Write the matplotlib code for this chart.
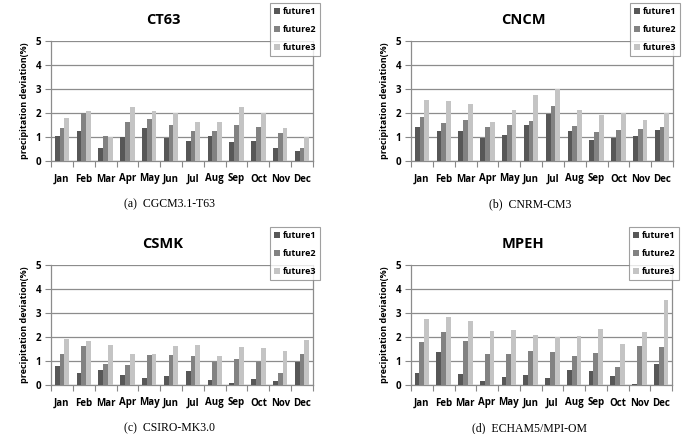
import matplotlib
matplotlib.use("Agg")
import matplotlib.pyplot as plt
import numpy as np
from matplotlib.patches import Patch

months = ["Jan", "Feb", "Mar", "Apr", "May", "Jun", "Jul", "Aug", "Sep", "Oct", "Nov", "Dec"]
series_names = ["future1", "future2", "future3"]

ct63_f1 = [1.06, 1.25, 0.53, 1.02, 1.39, 0.96, 0.82, 1.06, 0.79, 0.84, 0.54, 0.43]
ct63_f2 = [1.36, 2.02, 1.06, 1.63, 1.74, 1.52, 1.27, 1.24, 1.49, 1.43, 1.16, 0.54]
ct63_f3 = [1.78, 2.09, 1.01, 2.26, 2.09, 1.99, 1.63, 1.63, 2.24, 2.02, 1.38, 0.99]

cncm_f1 = [1.43, 1.27, 1.23, 0.96, 1.10, 1.50, 1.95, 1.24, 0.86, 0.96, 1.03, 1.30]
cncm_f2 = [1.82, 1.57, 1.71, 1.41, 1.49, 1.67, 2.28, 1.46, 1.20, 1.31, 1.34, 1.42]
cncm_f3 = [2.55, 2.48, 2.37, 1.64, 2.13, 2.73, 3.00, 2.12, 1.92, 1.99, 1.70, 2.02]

csmk_f1 = [0.78, 0.50, 0.61, 0.42, 0.28, 0.36, 0.58, 0.19, 0.08, 0.25, 0.17, 0.94]
csmk_f2 = [1.31, 1.61, 0.86, 0.83, 1.25, 1.25, 1.22, 0.94, 1.08, 0.96, 0.50, 1.31]
csmk_f3 = [1.92, 1.83, 1.67, 1.29, 1.28, 1.61, 1.67, 1.22, 1.58, 1.53, 1.43, 1.86]

mpeh_f1 = [0.51, 1.39, 0.46, 0.18, 0.33, 0.42, 0.29, 0.64, 0.58, 0.39, 0.06, 0.86]
mpeh_f2 = [1.81, 2.22, 1.83, 1.29, 1.29, 1.43, 1.39, 1.19, 1.33, 0.75, 1.61, 1.58]
mpeh_f3 = [2.74, 2.83, 2.67, 2.25, 2.28, 2.08, 1.99, 2.06, 2.33, 1.69, 2.22, 3.54]

titles = ["CT63", "CNCM", "CSMK", "MPEH"]
captions = ["(a)  CGCM3.1-T63", "(b)  CNRM-CM3", "(c)  CSIRO-MK3.0", "(d)  ECHAM5/MPI-OM"]
panels = [
    (ct63_f1, ct63_f2, ct63_f3),
    (cncm_f1, cncm_f2, cncm_f3),
    (csmk_f1, csmk_f2, csmk_f3),
    (mpeh_f1, mpeh_f2, mpeh_f3),
]

colors = ["#575757", "#828282", "#c4c4c4"]
W, H = 689, 434
fig = plt.figure(figsize=(W / 100, H / 100), dpi=100)

sans = ["Open Sans", "DejaVu Sans"]
serif = ["Liberation Serif", "DejaVu Serif"]

# axes boxes in pixels: (left, top, right, bottom)
boxes = [(51, 41, 313, 161), (411, 41, 673, 161), (51, 265, 313, 385), (411, 265, 672, 385)]

for i, (data, box) in enumerate(zip(panels, boxes)):
    l, t, r, b = box
    ax = fig.add_axes([l / W, 1 - b / H, (r - l) / W, (b - t) / H])
    x = np.arange(len(months))
    bw = 0.22
    for k, vals in enumerate(data):
        ax.bar(x + (k - 1) * bw, vals, width=bw, color=colors[k], zorder=3,
               label=series_names[k])
    ax.set_xlim(-0.5, 11.5)
    ax.set_ylim(0, 5)
    ax.set_yticks(range(6))
    ax.set_yticklabels([str(v) for v in range(6)], family=sans, fontweight="bold", fontsize=7)
    ax.set_xticks(np.arange(-0.5, 12, 1.0))
    ax.set_xticklabels([])
    ax.set_xticks(x, minor=True)
    ax.set_xticklabels(months, minor=True, family=sans, fontweight="bold", fontsize=7)
    ax.tick_params(axis="x", which="minor", length=0, pad=9)
    ax.tick_params(axis="x", which="major", length=4, color="#888888", width=0.8)
    ax.tick_params(axis="y", length=4, color="#888888", width=0.8, pad=3)
    ax.grid(axis="y", color="#8c8c8c", linewidth=0.9, zorder=0)
    for s in ["left", "bottom", "right"]:
        ax.spines[s].set_color("#8c8c8c")
        ax.spines[s].set_linewidth(0.9)
    ax.spines["top"].set_visible(False)
    ax.set_ylabel("precipitation deviation(%)", family=sans, fontweight="bold", fontsize=6.5, labelpad=5)

    # title
    cx = (l + r) / 2 - 19
    fig.text(cx / W, 1 - (t - 21) / H, titles[i], family=sans, fontweight="bold",
             fontsize=10.5, ha="center", va="center")
    # caption
    fig.text(((l + r) / 2 - 12) / W, 1 - (b + 43) / H, captions[i], family=serif,
             fontsize=8.5, ha="center", va="center")
    # legend
    handles = [Patch(facecolor=c) for c in colors]
    leg = fig.legend(handles, series_names, loc="upper right",
                     bbox_to_anchor=((r + 7) / W, 1 - (t - 38) / H),
                     prop={"family": sans, "weight": "bold", "size": 6.5},
                     frameon=True, fancybox=False, edgecolor="#888888",
                     handlelength=0.6, handleheight=0.6, handletextpad=0.3,
                     labelspacing=1.0, borderpad=0.45, borderaxespad=0)
    leg.get_frame().set_linewidth(0.8)

fig.savefig("out.png", dpi=100)
